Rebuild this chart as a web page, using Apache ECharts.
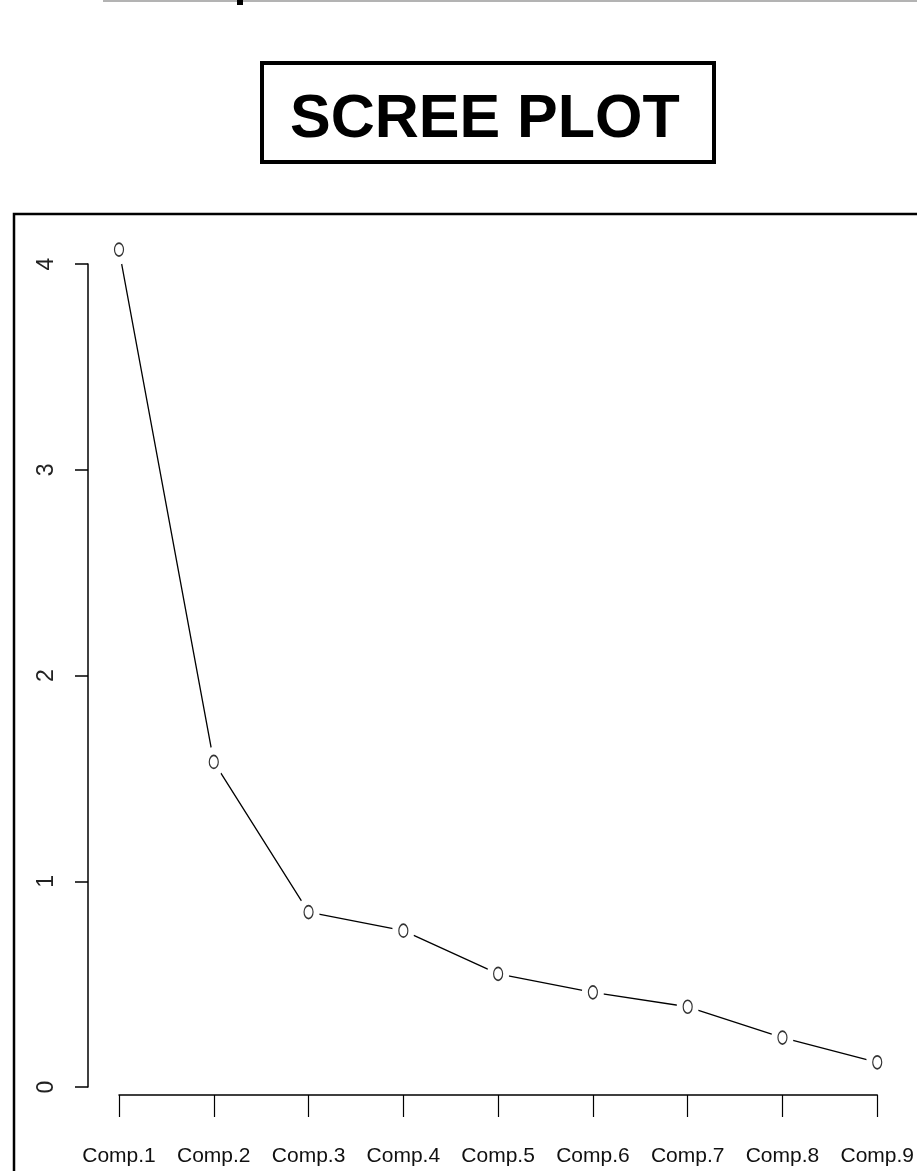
<!DOCTYPE html>
<html>
<head>
<meta charset="utf-8">
<script src="https://cdn.jsdelivr.net/npm/echarts@6/dist/echarts.min.js"></script>
<style>
  html, body { margin: 0; padding: 0; background: #fff; }
  #chart { width: 917px; height: 1171px; }
</style>
</head>
<body>
<div id="chart"></div>
<script>
// ---- data ----
const categories = ['Comp.1', 'Comp.2', 'Comp.3', 'Comp.4', 'Comp.5', 'Comp.6', 'Comp.7', 'Comp.8', 'Comp.9'];
const variances = [4.07, 1.58, 0.85, 0.76, 0.55, 0.46, 0.39, 0.24, 0.12];
const yTicks = [0, 1, 2, 3, 4];
const titleText = 'SCREE PLOT';

const chart = echarts.init(document.getElementById('chart'), null, { renderer: 'canvas' });
const labelFont = '"Liberation Sans", Arial, sans-serif';

chart.setOption({
  backgroundColor: '#ffffff',
  animation: false,
  title: {
    text: titleText,
    left: 285,
    top: 80,
    textStyle: {
      fontFamily: '"Liberation Sans", Arial, sans-serif',
      fontWeight: 'bold',
      fontSize: 61,
      color: '#000',
      lineHeight: 70
    }
  },
  graphic: [
    { type: 'line', shape: { x1: 103, y1: 1, x2: 917, y2: 1 }, style: { stroke: '#b3b3b3', lineWidth: 2 } },
    { type: 'rect', shape: { x: 237, y: 0, width: 6, height: 5 }, style: { fill: '#000' } },
    { type: 'rect', shape: { x: 262, y: 63, width: 452, height: 99 }, style: { fill: 'none', stroke: '#000', lineWidth: 4 } },
    { type: 'rect', shape: { x: 14, y: 214, width: 920, height: 1000 }, style: { fill: 'none', stroke: '#000', lineWidth: 2.5 } }
  ],
  grid: { left: 119, right: 36, top: 264, bottom: 84, containLabel: false },
  xAxis: {
    type: 'category',
    data: categories,
    boundaryGap: false,
    offset: 8,
    axisLine: { show: true, onZero: false, lineStyle: { color: '#000', width: 1.5 } },
    axisTick: { show: true, length: 22, alignWithLabel: true, lineStyle: { color: '#000', width: 1.2 } },
    axisLabel: {
      interval: 0,
      margin: 51,
      fontFamily: labelFont,
      fontSize: 21,
      color: '#111'
    },
    splitLine: { show: false }
  },
  yAxis: {
    type: 'value',
    min: yTicks[0],
    max: yTicks[yTicks.length - 1],
    interval: 1,
    offset: 31,
    axisLine: { show: true, lineStyle: { color: '#000', width: 1.5 } },
    axisTick: { show: true, length: 13, lineStyle: { color: '#000', width: 1.5 } },
    axisLabel: {
      rotate: 90,
      margin: 30,
      fontFamily: labelFont,
      fontSize: 23,
      color: '#222',
      formatter: function (v) { return yTicks.indexOf(v) >= 0 ? String(v) : ''; }
    },
    splitLine: { show: false }
  },
  series: [
    {
      type: 'line',
      data: variances,
      clip: false,
      symbol: 'circle',
      symbolSize: [22, 30],
      itemStyle: { color: '#ffffff', borderWidth: 0 },
      lineStyle: { color: '#000', width: 1.3 },
      z: 2
    },
    {
      type: 'scatter',
      data: variances,
      clip: false,
      symbol: 'circle',
      symbolSize: [9, 13],
      itemStyle: { color: '#ffffff', borderColor: '#000', borderWidth: 1.4 },
      z: 3
    }
  ]
});
</script>
</body>
</html>
